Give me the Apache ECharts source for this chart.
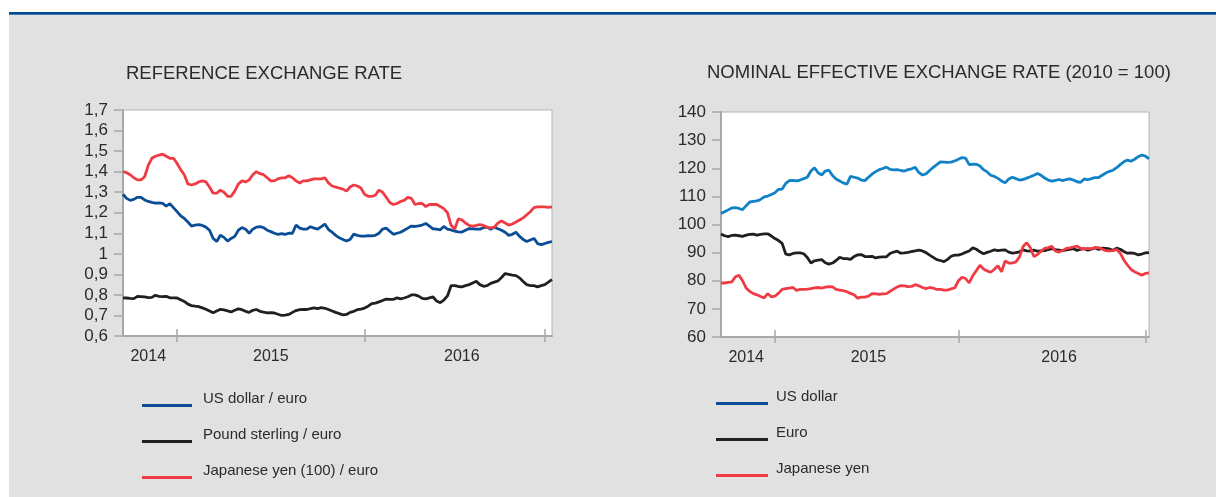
<!DOCTYPE html>
<html>
<head>
<meta charset="utf-8">
<script src="https://cdn.jsdelivr.net/npm/echarts@6.0.0/dist/echarts.min.js"></script>
<style>
  html, body { margin: 0; padding: 0; background: #fff; }
  #page { position: relative; width: 1216px; height: 497px; overflow: hidden; }
  #bar { position: absolute; left: 9px; top: 12px; right: 0; height: 2px; background: #00498f; border-bottom: 1px solid #3d79b5; }
  #panel { position: absolute; left: 9px; top: 15px; right: 0; bottom: 0; background: #e1e1e1; }
  #main { position: absolute; left: 0; top: 0; width: 1216px; height: 497px; }
</style>
</head>
<body>
<div id="page">
  <div id="bar"></div>
  <div id="panel"></div>
  <div id="main"></div>
</div>
<script>
// weekly observations, first one 19 Sep 2014
const firstWeek = new Date(Date.UTC(2014, 8, 19))
const nWeeks = 120
const weeks = []
for (let i = 0; i < nWeeks; i++) {
  const d = new Date(firstWeek.getTime() + i * 7 * 86400000)
  weeks.push(d.toISOString().slice(0, 10))
}

// where the year ticks and the year labels sit (week index)
const leftYearTicks = [15, 67, 117]
const rightYearTicks = [15, 66, 118]
const yearLabelWeeks = [7, 41, 94]

// reference exchange rate
const usdEur = [
  1.29, 1.27, 1.26, 1.265, 1.275, 1.275, 1.262, 1.255, 1.25, 1.247,
  1.248, 1.245, 1.232, 1.244, 1.225, 1.205, 1.185, 1.172, 1.155, 1.135,
  1.14, 1.142, 1.138, 1.13, 1.115, 1.075, 1.06, 1.09, 1.08, 1.062,
  1.075, 1.085, 1.115, 1.128, 1.12, 1.10, 1.12, 1.13, 1.132, 1.128,
  1.115, 1.108, 1.10, 1.095, 1.098, 1.095, 1.10, 1.10, 1.14, 1.125,
  1.12, 1.12, 1.132, 1.125, 1.12, 1.132, 1.145, 1.118, 1.105, 1.09,
  1.078, 1.07, 1.062, 1.07, 1.096, 1.09, 1.086, 1.086, 1.088, 1.087,
  1.09, 1.10, 1.12, 1.125, 1.11, 1.095, 1.10, 1.105, 1.115, 1.125,
  1.135, 1.133, 1.136, 1.14, 1.148, 1.135, 1.122, 1.12, 1.117, 1.133,
  1.12, 1.116, 1.11, 1.107, 1.106, 1.115, 1.123, 1.122, 1.12, 1.12,
  1.127, 1.13, 1.12, 1.13, 1.122, 1.115, 1.105, 1.09, 1.095, 1.105,
  1.085, 1.07, 1.06, 1.067, 1.075, 1.05, 1.045, 1.05, 1.056, 1.06
]
const gbpEur = [
  0.786, 0.785, 0.783, 0.782, 0.793, 0.792, 0.79, 0.787, 0.788, 0.798,
  0.793, 0.792, 0.793, 0.786, 0.786, 0.785, 0.776, 0.768, 0.755, 0.748,
  0.745, 0.743, 0.737, 0.73, 0.722, 0.713, 0.722, 0.73, 0.727, 0.722,
  0.717, 0.725, 0.732, 0.728, 0.72, 0.715, 0.725, 0.729, 0.72, 0.716,
  0.713, 0.714, 0.712, 0.706, 0.70, 0.702, 0.705, 0.715, 0.724, 0.728,
  0.73, 0.729, 0.733, 0.737, 0.733, 0.738, 0.735, 0.729, 0.722, 0.715,
  0.709, 0.703, 0.705, 0.715, 0.72, 0.728, 0.731, 0.736, 0.745, 0.758,
  0.76, 0.766, 0.773, 0.78, 0.778, 0.778, 0.786, 0.781, 0.785, 0.791,
  0.80, 0.80, 0.794, 0.783, 0.781, 0.786, 0.79, 0.77, 0.762, 0.775,
  0.795, 0.845, 0.845, 0.841, 0.839, 0.845, 0.85, 0.858, 0.866, 0.85,
  0.842, 0.845, 0.856, 0.862, 0.868, 0.885, 0.904, 0.90, 0.896, 0.894,
  0.883, 0.865, 0.85, 0.845, 0.845, 0.839, 0.845, 0.85, 0.862, 0.875
]
const jpyEur = [
  1.40, 1.395, 1.385, 1.37, 1.36, 1.36, 1.375, 1.43, 1.465, 1.475,
  1.48, 1.485, 1.475, 1.465, 1.465, 1.44, 1.41, 1.385, 1.34, 1.335,
  1.34, 1.35, 1.355, 1.35, 1.325, 1.295, 1.295, 1.31, 1.30, 1.28,
  1.28, 1.305, 1.34, 1.355, 1.35, 1.36, 1.385, 1.40, 1.39, 1.385,
  1.37, 1.355, 1.355, 1.365, 1.37, 1.37, 1.38, 1.37, 1.355, 1.345,
  1.355, 1.355, 1.36, 1.365, 1.365, 1.365, 1.37, 1.345, 1.33, 1.325,
  1.32, 1.315, 1.305, 1.325, 1.335, 1.33, 1.32, 1.29, 1.28, 1.28,
  1.285, 1.31, 1.30, 1.275, 1.25, 1.24, 1.245, 1.255, 1.26, 1.275,
  1.27, 1.24, 1.245, 1.245, 1.23, 1.24, 1.24, 1.24, 1.23, 1.22,
  1.20, 1.14, 1.12, 1.17, 1.165, 1.15, 1.138, 1.135, 1.138, 1.142,
  1.138, 1.13, 1.126, 1.13, 1.15, 1.16, 1.15, 1.14, 1.145, 1.155,
  1.165, 1.175, 1.19, 1.205, 1.225, 1.228, 1.228, 1.228, 1.226, 1.228
]

// nominal effective exchange rate (2010 = 100)
const usdNeer = [
  103.9, 104.5, 105.2, 105.9, 106.0, 105.7, 105.3, 106.7, 108.0, 108.2,
  108.4, 108.9, 109.8, 110.1, 110.7, 111.3, 112.5, 112.6, 114.6, 115.6,
  115.7, 115.5, 115.8, 116.3, 116.8, 119.0, 120.2, 118.4, 117.6, 119.0,
  119.3, 117.4, 116.2, 115.5, 114.8, 114.3, 117.1, 116.8, 116.5, 115.8,
  115.6, 116.8, 117.9, 118.8, 119.5, 119.9, 120.4, 119.6, 119.4, 119.5,
  119.2, 119.0, 119.5, 119.8, 120.3, 118.5, 117.6, 118.0, 119.2, 120.3,
  121.3, 122.3, 122.2, 122.1, 122.2, 122.6, 123.2, 123.8, 123.6, 121.3,
  121.5, 121.4, 120.8, 119.5, 118.7, 117.5, 117.1, 116.4, 115.5, 114.8,
  116.2, 116.8, 116.3, 115.8, 116.0, 116.5, 117.0, 117.5, 118.1, 117.5,
  116.5, 115.8, 115.4, 115.7, 116.0, 115.6, 116.0, 116.2, 115.8, 115.2,
  115.0, 116.2, 115.9, 116.3, 116.7, 116.7, 117.5, 118.3, 118.9, 119.3,
  120.2, 121.3, 122.3, 122.9, 122.5, 123.2, 124.1, 124.7, 124.3, 123.3
]
const eurNeer = [
  96.6, 96.0, 95.7, 96.1, 96.2, 96.0, 95.8, 96.2, 96.5, 96.6,
  96.2, 96.5, 96.7, 96.7, 95.9, 95.0, 94.3, 93.3, 89.5, 89.2,
  89.7, 89.9, 89.9, 89.6, 88.3, 86.3, 87.1, 87.3, 87.5, 86.4,
  85.9, 86.3, 87.2, 88.3, 87.9, 87.9, 87.6, 88.6, 89.2, 89.3,
  88.6, 88.6, 88.7, 88.1, 88.4, 88.5, 88.5, 89.7, 90.2, 90.5,
  89.8, 89.9, 90.1, 90.4, 90.6, 90.9, 90.6, 90.0, 89.1, 88.3,
  87.5, 87.2, 86.8, 87.6, 88.7, 89.1, 89.1, 89.5, 90.1, 90.6,
  91.7, 91.2, 90.3, 89.6, 90.1, 90.5, 91.0, 90.7, 90.9, 91.0,
  90.2, 89.8, 90.0, 90.3, 91.0, 90.6, 90.5, 90.9, 90.5, 90.6,
  90.7, 91.1, 91.4, 91.1, 90.9, 90.7, 91.0, 91.2, 91.4, 90.8,
  91.2, 91.4, 90.9, 91.2, 91.7, 91.1, 91.6, 91.5, 91.3, 90.8,
  91.6, 91.2, 90.4, 89.8, 89.9, 89.7, 89.2, 89.5, 89.9, 90.0
]
const jpyNeer = [
  79.2, 79.2, 79.4, 79.6, 81.4, 81.9, 80.0, 77.4, 76.2, 75.4,
  75.0, 74.4, 73.9, 75.4, 74.3, 74.5, 75.6, 76.9, 77.2, 77.4,
  77.6, 76.6, 76.9, 76.9, 77.0, 77.2, 77.5, 77.6, 77.4, 77.7,
  77.9, 77.8, 76.9, 76.7, 76.5, 76.1, 75.5, 75.0, 73.8, 74.2,
  74.2, 74.5, 75.4, 75.3, 75.2, 75.3, 75.4, 76.2, 77.0, 77.8,
  78.3, 78.2, 77.9, 78.0, 78.6, 78.2, 77.6, 77.2, 77.6, 77.4,
  76.9, 76.9, 76.7, 76.7, 77.1, 77.5, 80.0, 81.2, 80.8, 79.2,
  81.8, 83.6, 85.5, 84.2, 83.5, 83.0, 84.1, 85.3, 83.2, 87.0,
  86.3, 86.3, 86.7, 88.5, 92.2, 93.5, 91.8, 88.6, 89.3, 90.5,
  91.5, 91.8, 92.2, 90.5, 90.2, 90.8, 91.5, 91.7, 92.0, 92.3,
  91.5, 91.3, 91.5, 91.4, 91.8, 91.8, 91.2, 90.7, 90.6, 90.7,
  91.1, 89.8, 87.4, 85.6, 84.0, 83.2, 82.6, 82.0, 82.6, 82.8
]

const font = '"Liberation Sans", Arial, Helvetica, sans-serif'
const textCol = '#2b2b2b'
const axisCol = '#a8a8a8'
const darkBlue = '#0b4c97'
const lightBlue = '#1182c8'
const black = '#231f20'
const red = '#ee3b44'

var myChart = echarts.init(document.getElementById('main'))

// main x axis: line, labels and the lower half of the year ticks
function mainXAxis(grid, ticks) {
  return {
    type: 'category', gridIndex: grid, data: weeks, boundaryGap: false, position: 'bottom',
    axisLine: { lineStyle: { color: axisCol, width: 2 } },
    axisTick: { interval: (i) => ticks.includes(i), length: 6, lineStyle: { color: axisCol, width: 1.5 } },
    axisLabel: {
      interval: (i) => yearLabelWeeks.includes(i),
      formatter: (v) => v.slice(0, 4),
      fontSize: 16, color: textCol, fontFamily: font, margin: 13
    }
  }
}
// second x axis on the same grid, only for the upper half of the year ticks
function innerXAxis(grid, ticks) {
  return {
    type: 'category', gridIndex: grid, data: weeks, boundaryGap: false, position: 'bottom',
    axisLine: { show: false },
    axisTick: { inside: true, interval: (i) => ticks.includes(i), length: 7, lineStyle: { color: axisCol, width: 1.5 } },
    axisLabel: { show: false }
  }
}
function yAxis(grid, min, max, step, fmt) {
  return {
    type: 'value', gridIndex: grid, min: min, max: max, interval: step,
    splitLine: { show: false },
    axisLine: { show: true, lineStyle: { color: axisCol, width: 2 } },
    axisTick: { show: true, length: 9, lineStyle: { color: axisCol, width: 1.5 } },
    axisLabel: { fontSize: 17, color: textCol, fontFamily: font, margin: 15, formatter: fmt }
  }
}
function line(name, x, y, data, color) {
  return {
    name: name, type: 'line', xAxisIndex: x, yAxisIndex: y, data: data,
    color: color, showSymbol: false, lineStyle: { width: 2.8, color: color }
  }
}
function legend(left, top, width, names, colors, pad) {
  return {
    orient: 'vertical', left: left, top: top, padding: 0,
    icon: 'rect', itemWidth: width, itemHeight: 3, itemGap: 7,
    data: names.map((n, k) => ({ name: n, itemStyle: { color: colors[k] } })),
    formatter: '{t|{name}}',
    textStyle: {
      fontSize: 15, color: textCol, fontFamily: font,
      rich: { t: { fontSize: 15, color: textCol, fontFamily: font, lineHeight: 16, padding: [0, 0, 14, pad] } }
    }
  }
}

let option = {
  animation: false,
  title: [
    { text: 'REFERENCE EXCHANGE RATE', left: 126, top: 64, padding: 0,
      textStyle: { fontSize: 18.5, fontWeight: 'normal', color: textCol, fontFamily: font } },
    { text: 'NOMINAL EFFECTIVE EXCHANGE RATE (2010 = 100)', left: 707, top: 63, padding: 0,
      textStyle: { fontSize: 18.5, fontWeight: 'normal', color: textCol, fontFamily: font } }
  ],
  grid: [
    { left: 123, top: 110, width: 429, height: 226, show: true, backgroundColor: '#fff', borderColor: '#b4b4b4', borderWidth: 1 },
    { left: 721, top: 112, width: 428, height: 225, show: true, backgroundColor: '#fff', borderColor: '#b4b4b4', borderWidth: 1 }
  ],
  legend: [
    legend(142, 391, 50, ['US dollar / euro', 'Pound sterling / euro', 'Japanese yen (100) / euro'], [darkBlue, black, red], 6),
    legend(716, 389, 52, ['US dollar', 'Euro', 'Japanese yen'], [darkBlue, black, red], 3)
  ],
  xAxis: [
    mainXAxis(0, leftYearTicks), innerXAxis(0, leftYearTicks),
    mainXAxis(1, rightYearTicks), innerXAxis(1, rightYearTicks)
  ],
  yAxis: [
    yAxis(0, 0.6, 1.7, 0.1, (v) => String(Math.round(v * 10) / 10).replace('.', ',')),
    yAxis(1, 60, 140, 10, (v) => String(v))
  ],
  series: [
    line('US dollar / euro', 0, 0, usdEur, darkBlue),
    line('Pound sterling / euro', 0, 0, gbpEur, black),
    line('Japanese yen (100) / euro', 0, 0, jpyEur, red),
    line('US dollar', 2, 1, usdNeer, lightBlue),
    line('Euro', 2, 1, eurNeer, black),
    line('Japanese yen', 2, 1, jpyNeer, red)
  ]
}
myChart.setOption(option)
</script>
</body>
</html>
